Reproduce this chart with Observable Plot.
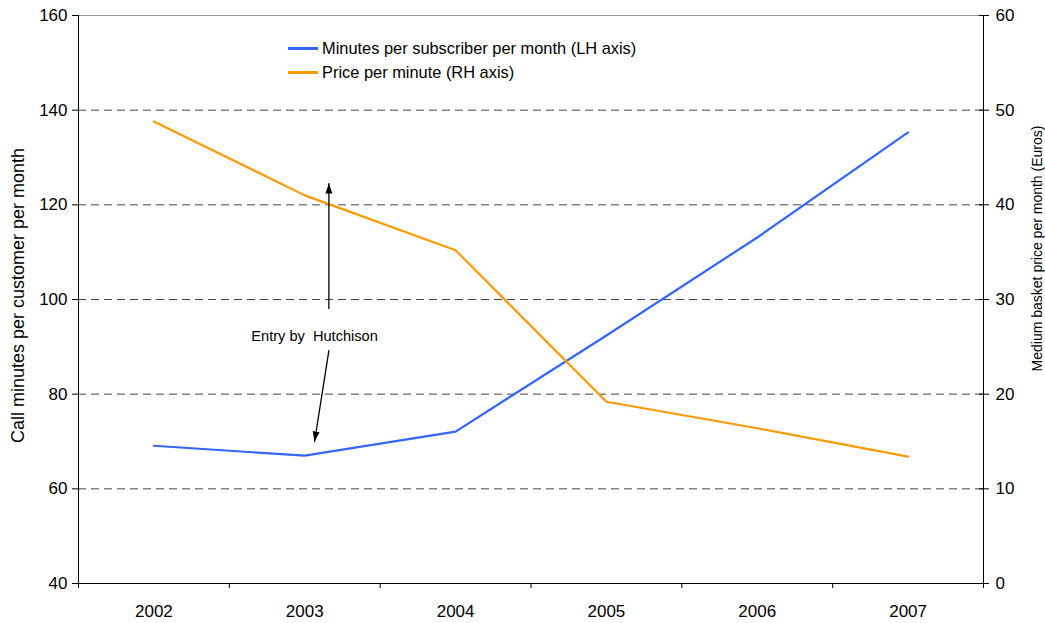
<!DOCTYPE html>
<html>
<head>
<meta charset="utf-8">
<script src="https://cdn.jsdelivr.net/npm/d3@7"></script>
<script src="https://cdn.jsdelivr.net/npm/@observablehq/plot@0.6"></script>
<style>
  body { margin: 0; background: #fff; font-family: "Liberation Sans", Arial, sans-serif; }
  #wrap { position: relative; width: 1045px; height: 623px; }
  #legend { position: absolute; left: 288px; top: 36px; font-size: 16.4px; color: #000; line-height: 24px; }
  #legend .item { display: flex; align-items: center; white-space: nowrap; }
  #legend .sw { width: 30px; height: 3px; margin-right: 4px; }
</style>
</head>
<body>
<div id="wrap"><div id="legend"></div></div>
<script>
// ---- data ----
const years = [2002, 2003, 2004, 2005, 2006, 2007];
const minutesPerSubscriber = [69.1, 67.0, 72.1, 92.4, 113.1, 135.3]; // LH axis
const pricePerMinute = [48.8, 41.0, 35.2, 19.2, 16.4, 13.4];         // RH axis (Euros)
const leftTicks = [40, 60, 80, 100, 120, 140, 160];
const rightTicks = [0, 10, 20, 30, 40, 50, 60];
const gridTicks = [60, 80, 100, 120, 140];
const seriesNames = ["Minutes per subscriber per month (LH axis)", "Price per minute (RH axis)"];
const seriesColors = ["#3366FF", "#FF9900"];
const leftLabel = "Call minutes per customer per month";
const rightLabel = "Medium basket price per month (Euros)";
const annotationText = "Entry by  Hutchison";
// annotation anchor points (data units)
const annotationPos = [{x: 2003.065, y: 92.2}];
const arrows = [
  {x1: 2003.16, y1: 98.1, x2: 2003.16, y2: 124.5},
  {x1: 2003.16, y1: 89.2, x2: 2003.065, y2: 70.0}
];

// right axis maps onto left scale: left = right*2 + 40
const toLeft = r => r * 2 + 40;
const toRight = l => (l - 40) / 2;

const blue = years.map((y, i) => ({year: y, v: minutesPerSubscriber[i]}));
const orange = years.map((y, i) => ({year: y, v: toLeft(pricePerMinute[i])}));
const boundaries = d3.range(years.length + 1).map(i => years[0] - 0.5 + i);

function filledArrow(color, context) {
  const ns = "http://www.w3.org/2000/svg";
  const m = context.document.createElementNS(ns, "marker");
  m.setAttribute("viewBox", "-10 -5 10 10");
  m.setAttribute("markerWidth", "10");
  m.setAttribute("markerHeight", "10");
  m.setAttribute("markerUnits", "userSpaceOnUse");
  m.setAttribute("orient", "auto");
  m.setAttribute("refX", "0");
  m.setAttribute("refY", "0");
  const p = context.document.createElementNS(ns, "path");
  p.setAttribute("d", "M-10,-3.5L0,0L-10,3.5Z");
  p.setAttribute("fill", color);
  p.setAttribute("stroke", "none");
  m.appendChild(p);
  return m;
}

const arrowLines = arrows.flatMap((a, i) => [
  {id: i, x: a.x1, y: a.y1},
  {id: i, x: a.x2, y: a.y2}
]);

const chart = Plot.plot({
  width: 1045,
  height: 623,
  marginLeft: 78,
  marginRight: 62,
  marginTop: 15,
  marginBottom: 40,
  style: {fontFamily: "'Liberation Sans', Arial, sans-serif", background: "#fff", overflow: "visible"},
  x: {type: "linear", domain: [boundaries[0], boundaries[boundaries.length - 1]]},
  y: {type: "linear", domain: [40, 160]},
  marks: [
    Plot.gridY(gridTicks, {stroke: "#333", strokeOpacity: 0.9, strokeDasharray: "8,5"}),
    Plot.ruleY([160], {stroke: "#999"}),
    Plot.ruleY([40], {stroke: "#000"}),
    Plot.ruleX([boundaries[0]], {stroke: "#000"}),
    Plot.ruleX([boundaries[boundaries.length - 1]], {stroke: "#000"}),
    Plot.axisY(leftTicks, {anchor: "left", tickSize: 6, tickPadding: 5, fontSize: 17, label: null, tickFormat: d => d}),
    Plot.axisY(rightTicks.map(toLeft), {anchor: "right", tickSize: 5, tickPadding: 7, fontSize: 17, label: null, tickFormat: d => toRight(d)}),
    Plot.axisY(rightTicks.map(toLeft), {anchor: "right", tickSize: -5, tickPadding: 0, label: null, tickFormat: () => ""}),
    Plot.axisX(boundaries, {anchor: "bottom", tickSize: 5, tickFormat: () => "", label: null}),
    Plot.axisX(years, {anchor: "bottom", tickSize: 0, tickPadding: 21, fontSize: 17, label: null, tickFormat: d => String(d)}),
    Plot.line(blue, {x: "year", y: "v", stroke: seriesColors[0], strokeWidth: 2.2}),
    Plot.line(orange, {x: "year", y: "v", stroke: seriesColors[1], strokeWidth: 2.2}),
    Plot.line(arrowLines, {x: "x", y: "y", z: "id", stroke: "#000", strokeWidth: 1.3, markerEnd: filledArrow}),
    Plot.text(annotationPos, {x: "x", y: "y", text: () => annotationText, fontSize: 14.6, fill: "#000"}),
    Plot.text([leftLabel], {frameAnchor: "left", textAnchor: "middle", dx: -60, dy: -4, rotate: -90, fontSize: 18, fill: "#000"}),
    Plot.text([rightLabel], {frameAnchor: "right", textAnchor: "middle", dx: 54, dy: -51, rotate: -90, fontSize: 14, fill: "#000"})
  ]
});

const wrap = document.getElementById("wrap");
wrap.insertBefore(chart, wrap.firstChild);
const legend = document.getElementById("legend");
seriesNames.forEach((name, i) => {
  const item = document.createElement("div");
  item.className = "item";
  const sw = document.createElement("span");
  sw.className = "sw";
  sw.style.background = seriesColors[i];
  const t = document.createElement("span");
  t.textContent = name;
  item.appendChild(sw);
  item.appendChild(t);
  legend.appendChild(item);
});
</script>
</body>
</html>
